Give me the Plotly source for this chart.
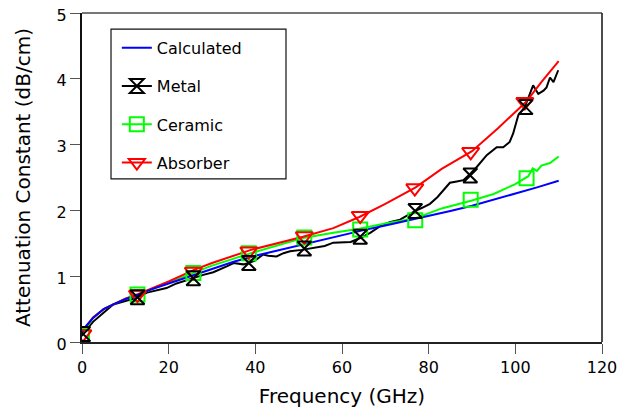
import plotly.graph_objects as go

# ---------------- data ----------------
calc_x = [0, 1, 2.5, 5, 7.5, 10, 13, 16, 20, 25, 30, 35, 40, 45, 50, 55, 60, 65, 70, 75, 80, 85, 90, 95, 100, 105, 110]
calc_y = [0.15, 0.25, 0.36, 0.5, 0.58, 0.65, 0.72, 0.8, 0.89, 1.0, 1.12, 1.22, 1.31, 1.39, 1.47, 1.55, 1.62, 1.70, 1.77,
          1.84, 1.91, 1.99, 2.07, 2.16, 2.25, 2.35, 2.45]

metal_x = [0, 2.6, 7.2, 12.6, 15, 17.2, 19.5, 21.8, 24, 25.7, 28, 30.3, 33.4, 35, 37.2, 38.5, 40, 41.8, 43, 44.9, 46.5,
           48, 50.7, 52.5, 54.2, 56, 58, 60.3, 62, 64.2, 66.5, 68.8, 71, 73.4, 75, 76.8, 78.5, 80.3, 82, 83.4, 84.9,
           86.5, 88, 89.5, 91.1, 93.4, 95.7, 97.2, 98.7, 99.5, 100.7, 102.2, 103.2, 104.1, 105.3, 106.5, 107.2, 108,
           108.8, 109.9]
metal_y = [0.11, 0.31, 0.57, 0.67, 0.75, 0.79, 0.82, 0.89, 0.93, 0.97, 1.02, 1.06, 1.15, 1.2, 1.18, 1.2, 1.24, 1.33,
           1.31, 1.30, 1.35, 1.38, 1.40, 1.42, 1.44, 1.46, 1.51, 1.52, 1.52, 1.58, 1.66, 1.76, 1.82, 1.86, 1.92, 1.99,
           2.04, 2.1, 2.2, 2.3, 2.42, 2.44, 2.46, 2.55, 2.66, 2.84, 2.96, 2.96, 3.04, 3.17, 3.45, 3.57, 3.75, 3.9,
           3.77, 3.82, 3.87, 4.02, 3.95, 4.13]

ceramic_x = [0, 2.5, 5, 10, 13, 20, 26, 30, 39, 45, 51, 58, 64, 70, 77, 83, 90, 95, 100, 103, 104, 105, 106, 108, 110]
ceramic_y = [0.1, 0.37, 0.5, 0.66, 0.72, 0.9, 1.05, 1.16, 1.35, 1.47, 1.58, 1.66, 1.72, 1.8, 1.88, 2.03, 2.15, 2.25,
             2.4, 2.52, 2.64, 2.6, 2.68, 2.72, 2.82]

absorber_x = [0, 2.5, 5, 10, 13, 20, 26, 30, 39, 45, 51, 58, 64, 70, 77, 83, 90, 96, 102.5, 106, 110]
absorber_y = [0.15, 0.37, 0.5, 0.66, 0.73, 0.92, 1.1, 1.2, 1.4, 1.5, 1.6, 1.73, 1.9, 2.1, 2.35, 2.63, 2.9, 3.25,
              3.65, 3.95, 4.27]

# marker positions (symbols drawn at these points)
metal_mx = [0.3, 12.8, 25.7, 38.5, 51.3, 64.2, 76.9, 89.6, 102.4]
metal_my = [0.12, 0.68, 0.97, 1.2, 1.42, 1.6, 1.99, 2.53, 3.57]
ceramic_mx = [0, 12.8, 25.7, 38.5, 51.3, 64.2, 76.9, 89.7, 102.6]
ceramic_my = [0.1, 0.72, 1.05, 1.35, 1.59, 1.71, 1.85, 2.16, 2.49]
absorber_mx = [0.2, 12.8, 25.7, 38.5, 51.3, 64.2, 76.8, 89.7, 102.2]
absorber_my = [0.12, 0.72, 1.07, 1.38, 1.61, 1.92, 2.34, 2.89, 3.65]

series_names = ["Calculated", "Metal", "Ceramic", "Absorber"]
x_ticks = [0, 20, 40, 60, 80, 100, 120]
y_ticks = [0, 1, 2, 3, 4, 5]

# ---------------- figure ----------------
BLUE, BLACK, GREEN, RED = "#0000FF", "#000000", "#00FF00", "#FF0000"
LW = 2
MS = 14
FONT = "DejaVu Sans"

fig = go.Figure()

# data lines
fig.add_trace(go.Scatter(x=metal_x, y=metal_y, mode="lines", line=dict(color=BLACK, width=LW), showlegend=False))
fig.add_trace(go.Scatter(x=ceramic_x, y=ceramic_y, mode="lines", line=dict(color=GREEN, width=LW), showlegend=False))
fig.add_trace(go.Scatter(x=absorber_x, y=absorber_y, mode="lines", line=dict(color=RED, width=LW), showlegend=False))
fig.add_trace(go.Scatter(x=calc_x, y=calc_y, mode="lines", line=dict(color=BLUE, width=LW), showlegend=False))

# markers
fig.add_trace(go.Scatter(x=ceramic_mx, y=ceramic_my, mode="markers", showlegend=False,
                         marker=dict(symbol="square-open", size=MS, color=GREEN, line=dict(width=2, color=GREEN))))
fig.add_trace(go.Scatter(x=absorber_mx, y=absorber_my, mode="markers", showlegend=False,
                         marker=dict(symbol="triangle-down-open", size=MS + 1, color=RED, line=dict(width=2, color=RED))))
fig.add_trace(go.Scatter(x=metal_mx, y=metal_my, mode="markers", showlegend=False,
                         marker=dict(symbol="hourglass-open", size=MS, color=BLACK, line=dict(width=2, color=BLACK))))

# legend entries
legend_specs = [
    (series_names[0], BLUE, None),
    (series_names[1], BLACK, "hourglass-open"),
    (series_names[2], GREEN, "square-open"),
    (series_names[3], RED, "triangle-down-open"),
]
for i, (name, col, sym) in enumerate(legend_specs):
    if sym is None:
        fig.add_trace(go.Scatter(x=[None], y=[None], mode="lines", name=name, legendgroup=f"g{i}",
                                 line=dict(color=col, width=LW)))
    else:
        fig.add_trace(go.Scatter(x=[None], y=[None], mode="lines+markers", name=name, legendgroup=f"g{i}",
                                 line=dict(color=col, width=LW),
                                 marker=dict(symbol=sym, size=MS, color=col, line=dict(width=2, color=col))))

# the page body adds an 8px offset, so the figure is 8px smaller on each side
fig.update_layout(
    width=624, height=400,
    margin=dict(l=74, r=30, t=5, b=66, autoexpand=False),
    paper_bgcolor="white", plot_bgcolor="white",
    font=dict(family=FONT, size=16, color="black"),
    showlegend=True,
    legend=dict(x=0.067, y=0.946, xanchor="left", yanchor="top", bgcolor="rgba(0,0,0,0)",
                borderwidth=0, traceorder="grouped", tracegroupgap=14.5,
                font=dict(family=FONT, size=16, color="black")),
    xaxis=dict(range=[0, 120], tickvals=x_ticks, ticktext=[str(v) for v in x_ticks], automargin=False,
               showgrid=False, zeroline=False, showline=True, linecolor="#222", linewidth=2,
               ticks="outside", ticklen=10, tickwidth=1, tickcolor="#555", ticklabeloverflow="allow",
               tickfont=dict(family=FONT, size=16, color="black"),
               title=dict(text="Frequency (GHz)", font=dict(family=FONT, size=20, color="black"))),
    yaxis=dict(range=[0, 5], tickvals=y_ticks, ticktext=[str(v) for v in y_ticks], automargin=False,
               showgrid=False, zeroline=False, showline=True, linecolor="#111", linewidth=2,
               ticks="outside", ticklen=10, tickwidth=1, tickcolor="#555",
               ticklabeloverflow="allow", ticklabelshift=2,
               tickfont=dict(family=FONT, size=16, color="black"),
               title=dict(text="Attenuation Constant (dB/cm)", font=dict(family=FONT, size=20, color="black"),
                          standoff=21)),
    shapes=[
        dict(type="line", xref="paper", yref="paper", x0=0, x1=1, y0=1, y1=1, line=dict(color="#777", width=2)),
        dict(type="line", xref="paper", yref="paper", x0=1, x1=1, y0=0, y1=1, line=dict(color="#111", width=1.5)),
        dict(type="rect", xref="paper", yref="paper", x0=0.0558, x1=0.3923, y0=0.496, y1=0.951,
             line=dict(color="#111", width=1.2), fillcolor="rgba(0,0,0,0)"),
    ],
)

fig.write_html("out.html")
